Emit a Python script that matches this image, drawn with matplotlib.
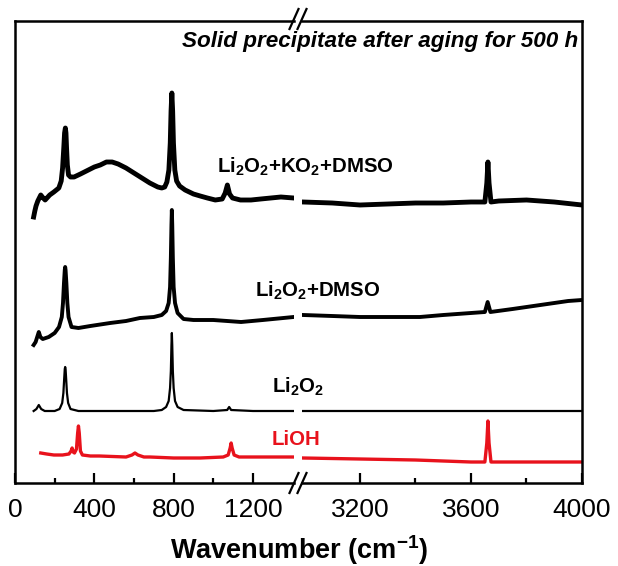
import matplotlib
matplotlib.use("Agg")
import matplotlib.pyplot as plt
import numpy as np

plt.rcParams['font.family'] = ['Liberation Sans', 'DejaVu Sans']
plt.rcParams['mathtext.default'] = 'regular'

# ---------------- data (wavenumber cm^-1, intensity a.u. with offsets) ----------------
# Li2O2 + KO2 + DMSO
ko2_wn_lo = [94, 100, 106, 115, 130, 142, 152, 175, 196, 221, 233, 240, 246, 250, 254, 257, 260,
             264, 270, 280, 298, 330, 360, 400, 430, 461, 490, 520, 560, 600, 640, 680, 720,
             740, 755, 766, 776, 783, 787, 791, 795, 799, 806, 815, 830, 858, 900, 934, 970,
             1010, 1045, 1060, 1071, 1082, 1097, 1137, 1190, 1239, 1290, 1341, 1405]
ko2_lo = [266, 272, 277, 282, 288, 285, 283, 288, 291, 295, 302, 315, 335, 350, 355, 350, 335,
          318, 308, 306, 306, 309, 312, 316, 318, 321, 321, 319, 315, 310, 305, 300, 296,
          295, 296, 301, 313, 340, 372, 390, 372, 340, 313, 302, 297, 293, 289, 287, 285,
          283, 284, 290, 298, 289, 285, 283, 283, 284, 285, 286, 285]
ko2_wn_hi = [2995, 3100, 3200, 3300, 3400, 3500, 3600, 3650, 3657, 3661, 3665, 3672, 3700, 3800, 3900, 4000]
ko2_hi = [281, 280, 278, 279, 280, 280, 281, 281, 300, 321, 300, 281, 282, 283, 281, 278]

# Li2O2 + DMSO
dmso_wn_lo = [94, 104, 112, 120, 128, 140, 170, 200, 222, 236, 242, 247, 251, 253, 255, 259, 264,
              270, 285, 320, 380, 480, 560, 630, 700, 740, 762, 775, 782, 786, 789, 791, 793,
              796, 800, 807, 820, 850, 900, 1000, 1140, 1250, 1405]
dmso_lo = [138, 141, 146, 151, 146, 144, 146, 150, 156, 166, 180, 200, 213, 216, 213, 200, 180,
           166, 156, 155, 157, 160, 162, 165, 166, 168, 172, 180, 196, 225, 258, 273, 258,
           225, 196, 180, 170, 164, 163, 163, 161, 163, 166]
dmso_wn_hi = [2995, 3100, 3200, 3300, 3416, 3500, 3600, 3650, 3660, 3670, 3750, 3850, 3950, 4000]
dmso_hi = [168, 167, 166, 166, 166, 168, 170, 171, 181, 171, 174, 178, 182, 183]

# Li2O2
li2o2_wn_lo = [94, 108, 120, 132, 150, 200, 225, 238, 244, 248, 251, 253, 255, 258, 262, 268, 280,
               320, 500, 700, 740, 762, 775, 782, 786, 789, 791, 793, 796, 800, 807, 820, 850,
               1000, 1070, 1080, 1090, 1200, 1405]
li2o2_lo = [72, 74, 78, 74, 72, 72, 74, 80, 90, 104, 114, 116, 114, 104, 90, 80, 74,
            72, 72, 72, 73, 76, 82, 95, 112, 138, 150, 138, 112, 95, 82, 76, 73,
            72, 73, 76, 73, 72, 72]
li2o2_wn_hi = [2995, 3400, 3800, 4000]
li2o2_hi = [72, 72, 72, 72]

# LiOH
lioh_wn_lo = [130, 160, 196, 240, 272, 283, 288, 293, 300, 310, 316, 320, 324, 330, 340, 380, 425,
              560, 590, 605, 620, 650, 680, 800, 934, 1050, 1075, 1085, 1090, 1095, 1105, 1130,
              1250, 1405]
lioh_lo = [30, 29, 28, 28, 29, 32, 35, 31, 30, 34, 50, 57, 50, 32, 28, 27, 27,
           26, 28, 30, 28, 26, 26, 25, 25, 26, 28, 35, 40, 35, 28, 26,
           26, 26]
lioh_wn_hi = [2995, 3200, 3400, 3600, 3650, 3657, 3661, 3665, 3672, 3700, 3800, 4000]
lioh_hi = [25, 24, 23, 21, 21, 40, 62, 40, 21, 21, 21, 21]

labels = ['Li$_2$O$_2$+KO$_2$+DMSO', 'Li$_2$O$_2$+DMSO', 'Li$_2$O$_2$', 'LiOH']
title_text = 'Solid precipitate after aging for 500 h'
xticks_lo = [0, 400, 800, 1200]
xminor_lo = [200, 600, 1000]
xticks_hi = [3200, 3600, 4000]
xminor_hi = [3400, 3800]

# ---------------- figure ----------------
W, H = 618, 566
fig = plt.figure(figsize=(W / 100, H / 100), dpi=100)

def fx(px):
    return px / W

def fy(py):
    return 1 - py / H

bot, top = fy(483), fy(21)
axL = fig.add_axes([fx(15), bot, fx(294) - fx(15), top - bot])
axR = fig.add_axes([fx(302), bot, fx(582) - fx(302), top - bot])

red = '#e8121c'
series = [
    (ko2_wn_lo, ko2_lo, ko2_wn_hi, ko2_hi, 'black', 3.5),
    (dmso_wn_lo, dmso_lo, dmso_wn_hi, dmso_hi, 'black', 2.8),
    (li2o2_wn_lo, li2o2_lo, li2o2_wn_hi, li2o2_hi, 'black', 1.6),
    (lioh_wn_lo, lioh_lo, lioh_wn_hi, lioh_hi, red, 2.4),
]
for wl, yl, wh, yh, c, lw in series:
    axL.plot(wl, yl, color=c, lw=lw, solid_joinstyle='round')
    axR.plot(wh, yh, color=c, lw=lw, solid_joinstyle='round')

axL.set_xlim(0, 1407)
axR.set_xlim(2991, 4000)
for ax in (axL, axR):
    ax.set_ylim(0, 462)
    ax.set_yticks([])
    for s in ax.spines.values():
        s.set_linewidth(1.8)
    ax.tick_params(axis='x', which='major', direction='in', length=7, width=1.6,
                   labelsize=19, pad=11)
    ax.tick_params(axis='x', which='minor', direction='in', length=3.8, width=1.6)
axL.spines['right'].set_visible(False)
axR.spines['left'].set_visible(False)
axL.set_xticks(xticks_lo)
axL.set_xticks(xminor_lo, minor=True)
axR.set_xticks(xticks_hi)
axR.set_xticks(xminor_hi, minor=True)

# break marks
for xc in (294, 302):
    for yc in (483, 19):
        fig.add_artist(plt.Line2D([fx(xc - 4.5), fx(xc + 4.5)], [fy(yc + 10), fy(yc - 10)],
                                  color='black', lw=1.6, transform=fig.transFigure))

# texts
fig.text(fx(578), fy(42), title_text, ha='right', va='center', fontsize=16.2,
         fontweight='bold', fontstyle='italic')
fig.text(fx(217), fy(173), labels[0], ha='left', va='baseline', fontsize=14.7, fontweight='bold')
fig.text(fx(255), fy(297), labels[1], ha='left', va='baseline', fontsize=14.7, fontweight='bold')
fig.text(fx(272), fy(393), labels[2], ha='left', va='baseline', fontsize=14.7, fontweight='bold')
fig.text(fx(272), fy(445), labels[3], ha='left', va='baseline', fontsize=14.7, fontweight='bold',
         color=red)
fig.text(fx(299), fy(550), 'Wavenumber (cm$^{-1}$)', ha='center', va='center', fontsize=19.5,
         fontweight='bold')

fig.savefig('out.png', dpi=100)
